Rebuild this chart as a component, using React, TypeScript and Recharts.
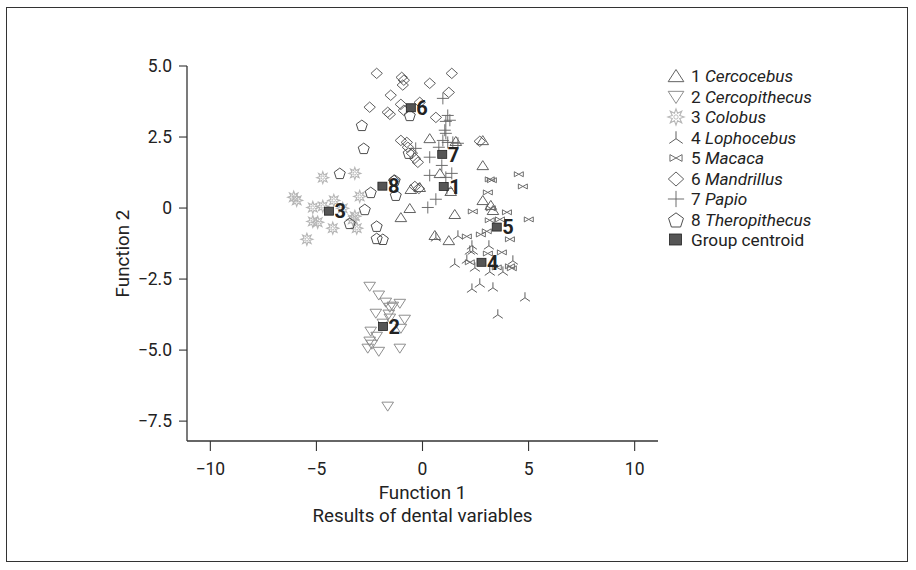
import React from 'react';
import { ScatterChart, Scatter, XAxis, YAxis } from 'recharts';

const FONT = 'Roboto, "Open Sans", sans-serif';
const TEXT = '#222';
const FS = 17.5;
const TITLE_FS = 18.8;
const LEGEND_FS = 17.2;

// ---------- axes ----------
const xTicks = [-10, -5, 0, 5, 10];
const yTicks = [-7.5, -5, -2.5, 0, 2.5, 5];
const xDomain: [number, number] = [-11.1, 11.1];
const yDomain: [number, number] = [-8.2, 5.0];
const xAxisTitle = 'Function 1';
const xAxisSubtitle = 'Results of dental variables';
const yAxisTitle = 'Function 2';

// ---------- data (Function 1, Function 2) ----------
const cercocebus: [number, number][] = [
  [0.34, 2.45], [1.57, 2.35], [2.84, 2.38], [2.84, 1.5], [0.82, 1.22], [1.33, 0.59],
  [-0.55, 0.66], [-0.6, -0.01], [-1.02, -0.33], [1.52, -0.22], [2.84, 0.27], [3.22, 0.1],
  [3.32, -0.08], [0.58, -0.96], [1.24, -1.14], [-0.13, 0.73],
];
const cercopithecus: [number, number][] = [
  [-2.49, -2.76], [-2.06, -3.07], [-1.73, -3.32], [-1.54, -3.5], [-1.4, -3.46], [-1.07, -3.36],
  [-2.2, -3.71], [-1.59, -3.74], [-1.54, -3.88], [-0.84, -3.92], [-1.87, -4.06], [-1.02, -4.24],
  [-2.44, -4.34], [-2.16, -4.52], [-2.49, -4.69], [-2.39, -4.8], [-2.58, -4.94], [-2.06, -5.05],
  [-1.07, -4.94], [-1.64, -6.98],
];
const colobus: [number, number][] = [
  [-4.7, 1.07], [-3.19, 1.22], [-6.07, 0.38], [-5.93, 0.27], [-5.17, 0.02], [-4.7, 0.06],
  [-4.18, 0.27], [-2.96, 0.41], [-3.76, -0.01], [-3.19, -0.29], [-5.17, -0.47], [-4.94, -0.5],
  [-4.23, -0.71], [-3.1, -0.71], [-5.45, -1.1], [-3.29, -0.4],
];
const lophocebus: [number, number][] = [
  [1.67, -0.96], [0.63, -1.03], [2.33, -1.31], [3.13, -1.31], [2.23, -1.49], [2.37, -1.49],
  [4.26, -1.84], [2.09, -1.81], [1.52, -1.95], [2.47, -2.09], [3.17, -2.23], [3.79, -2.23],
  [2.7, -2.65], [2.33, -2.83], [3.32, -2.79], [4.83, -3.14], [3.55, -3.74],
];
const macaca: [number, number][] = [
  [3.17, 1.01], [3.27, 0.98], [4.54, 1.19], [4.73, 0.76], [3.08, 0.55], [2.37, -0.12],
  [3.22, -0.01], [3.98, -0.15], [5.01, -0.4], [3.17, -0.43], [3.65, -0.4], [3.03, -0.82],
  [2.75, -0.93], [2.09, -1.0], [4.12, -1.1], [3.08, -1.6], [3.74, -1.56], [2.23, -1.91],
  [4.12, -2.05], [4.21, -2.12], [3.5, -2.09],
];
const mandrillus: [number, number][] = [
  [-2.16, 4.74], [-0.98, 4.6], [-0.88, 4.5], [-0.93, 4.33], [0.34, 4.39], [1.38, 4.74],
  [1.24, 4.07], [-1.5, 3.97], [-2.49, 3.55], [-1.02, 3.65], [-1.64, 3.37], [-1.54, 3.3],
  [-0.13, 3.72], [-0.88, 3.44], [0.63, 3.19], [-1.02, 2.38], [-0.74, 2.31], [-0.69, 2.14],
  [-0.5, 1.93], [-0.36, 1.75], [-0.22, 1.61], [2.7, 2.35], [-1.35, 0.98], [-0.36, 0.76],
  [-0.17, 0.69],
];
const papio: [number, number][] = [
  [0.96, 3.86], [1.19, 3.26], [1.1, 3.05], [1.29, 3.09], [1.05, 2.74], [1.1, 2.63],
  [0.96, 2.38], [1.19, 2.31], [1.43, 2.31], [1.67, 2.28], [-0.32, 2.1], [0.34, 1.79],
  [0.77, 2.14], [0.91, 1.5], [0.34, 1.15], [1.38, 1.22], [1.1, 1.08], [1.15, 0.69],
  [0.63, 0.31], [0.25, 0.02],
];
const theropithecus: [number, number][] = [
  [-2.86, 2.91], [-2.77, 2.1], [-0.6, 3.26], [-0.65, 1.93], [-3.9, 1.22], [-2.44, 0.55],
  [-1.26, 0.45], [-1.31, 0.98], [-2.72, -0.05], [-3.43, -0.54], [-2.16, -0.64], [-2.16, -1.07],
  [-1.87, -1.1],
];
const centroidLabels = ['1', '2', '3', '4', '5', '6', '7', '8'];
const centroidValues: [number, number][] = [
  [1.0, 0.76], [-1.86, -4.17], [-4.41, -0.11], [2.78, -1.91],
  [3.5, -0.67], [-0.55, 3.53], [0.93, 1.89], [-1.89, 0.77],
];

const toPoints = (arr: [number, number][]) => arr.map(([x, y]) => ({ x, y }));

type Kind = 'triUp' | 'triDown' | 'star' | 'tri3' | 'bowtie' | 'diamond' | 'plus' | 'pentagon';

const groups: { num: string; name: string; kind: Kind; color: string; data: [number, number][] }[] = [
  { num: '1', name: 'Cercocebus', kind: 'triUp', color: '#5a5a5a', data: cercocebus },
  { num: '2', name: 'Cercopithecus', kind: 'triDown', color: '#888', data: cercopithecus },
  { num: '3', name: 'Colobus', kind: 'star', color: '#b5b5b5', data: colobus },
  { num: '4', name: 'Lophocebus', kind: 'tri3', color: '#555', data: lophocebus },
  { num: '5', name: 'Macaca', kind: 'bowtie', color: '#666', data: macaca },
  { num: '6', name: 'Mandrillus', kind: 'diamond', color: '#555', data: mandrillus },
  { num: '7', name: 'Papio', kind: 'plus', color: '#666', data: papio },
  { num: '8', name: 'Theropithecus', kind: 'pentagon', color: '#444', data: theropithecus },
];

const fmtX = (v: number) => String(v).replace('-', '\u2212');
const fmtY = (v: number) => (v === 0 ? '0' : (Number.isInteger(v) ? v.toFixed(1) : String(v)).replace('-', '\u2212'));

function starPath(cx: number, cy: number, ro: number, ri: number, n: number) {
  let d = '';
  for (let i = 0; i < n * 2; i++) {
    const r = i % 2 === 0 ? ro : ri;
    const a = (Math.PI * i) / n - Math.PI / 2;
    d += (i === 0 ? 'M' : 'L') + (cx + r * Math.cos(a)).toFixed(2) + ',' + (cy + r * Math.sin(a)).toFixed(2);
  }
  return d + 'Z';
}

function Marker({ kind, cx, cy, s = 1, color }: { kind: Kind; cx: number; cy: number; s?: number; color: string }) {
  const common = { fill: 'none', stroke: color, strokeWidth: 0.95 };
  switch (kind) {
    case 'triUp':
      return <path d={`M${cx},${cy - 4.8 * s}L${cx + 5.8 * s},${cy + 4.2 * s}L${cx - 5.8 * s},${cy + 4.2 * s}Z`} {...common} />;
    case 'triDown':
      return <path d={`M${cx - 5.8 * s},${cy - 4.2 * s}L${cx + 5.8 * s},${cy - 4.2 * s}L${cx},${cy + 4.8 * s}Z`} {...common} />;
    case 'star':
      return (
        <g>
          <path d={starPath(cx, cy, 6 * s, 3 * s, 8)} {...common} strokeWidth={1.1} />
          <circle cx={cx} cy={cy} r={1.6 * s} fill="none" stroke={color} strokeWidth={0.9} />
        </g>
      );
    case 'tri3':
      return (
        <path
          d={`M${cx},${cy - 5 * s}L${cx},${cy + 0.5 * s}M${cx},${cy + 0.5 * s}L${cx - 5 * s},${cy + 4 * s}M${cx},${cy + 0.5 * s}L${cx + 5 * s},${cy + 4 * s}`}
          {...common}
        />
      );
    case 'bowtie':
      return (
        <path
          d={`M${cx - 4.5 * s},${cy - 2.5 * s}L${cx},${cy}L${cx - 4.5 * s},${cy + 2.5 * s}ZM${cx + 4.5 * s},${cy - 2.5 * s}L${cx},${cy}L${cx + 4.5 * s},${cy + 2.5 * s}Z`}
          {...common}
        />
      );
    case 'diamond':
      return <path d={`M${cx},${cy - 5.2 * s}L${cx + 5.7 * s},${cy}L${cx},${cy + 5.2 * s}L${cx - 5.7 * s},${cy}Z`} {...common} />;
    case 'plus':
      return <path d={`M${cx - 6 * s},${cy}L${cx + 6 * s},${cy}M${cx},${cy - 6 * s}L${cx},${cy + 6 * s}`} {...common} />;
    case 'pentagon': {
      const r = 5.8 * s;
      const pts = [0, 1, 2, 3, 4].map((i) => {
        const a = -Math.PI / 2 + (2 * Math.PI * i) / 5;
        return `${(cx + r * Math.cos(a)).toFixed(2)},${(cy + r * Math.sin(a) + 0.5 * s).toFixed(2)}`;
      });
      return <polygon points={pts.join(' ')} {...common} />;
    }
  }
  return null;
}

const centroidData = centroidValues.map(([x, y], i) => ({ x, y, label: centroidLabels[i] }));

const CentroidShape = (p: any) => {
  const label = p?.payload?.label ?? p?.label;
  return (
    <g>
      <rect x={p.cx - 4.5} y={p.cy - 4} width={9} height={8} fill="#555" stroke="#222" strokeWidth={0.8} />
      <text x={p.cx + 5.5} y={p.cy} dy="0.36em" fontSize={20} fontWeight={700} fill={TEXT} fontFamily={FONT}>
        {label}
      </text>
    </g>
  );
};

const XLabel = (props: any) => {
  const vb = props.viewBox || {};
  const cx = vb.x + vb.width / 2;
  return (
    <g fontFamily={FONT} fontSize={TITLE_FS} fill={TEXT}>
      <text x={cx} y={vb.y + 58} textAnchor="middle" fill={TEXT}>{xAxisTitle}</text>
      <text x={cx} y={vb.y + 81} textAnchor="middle" fill={TEXT}>{xAxisSubtitle}</text>
    </g>
  );
};

const YLabel = (props: any) => {
  const vb = props.viewBox || {};
  const cy = vb.y + vb.height / 2;
  const x = 129;
  return (
    <text x={x} y={cy} textAnchor="middle" transform={`rotate(-90 ${x} ${cy})`} fontFamily={FONT} fontSize={TITLE_FS} fill={TEXT}>
      {yAxisTitle}
    </text>
  );
};

function Legend() {
  const rows = [
    ...groups.map((g) => ({ kind: g.kind as Kind | 'centroid', color: g.color, num: g.num, name: g.name })),
    { kind: 'centroid' as const, color: '#555', num: '', name: 'Group centroid' },
  ];
  return (
    <div style={{ position: 'absolute', left: 666, top: 66, fontFamily: FONT, fontSize: LEGEND_FS, color: TEXT }}>
      {rows.map((r, i) => (
        <div key={i} style={{ height: 20.5, display: 'flex', alignItems: 'center', whiteSpace: 'nowrap' }}>
          <svg width={20} height={20} style={{ flex: 'none' }}>
            {r.kind === 'centroid' ? (
              <rect x={3.5} y={4} width={12} height={11} fill="#555" stroke="#222" strokeWidth={0.8} />
            ) : (
              <Marker kind={r.kind} cx={10} cy={10} s={1.35} color={r.color} />
            )}
          </svg>
          <div style={{ marginLeft: 5, lineHeight: '20px' }}>
            {r.num ? `${r.num} ` : ''}
            {r.num ? <i>{r.name}</i> : r.name}
          </div>
        </div>
      ))}
    </div>
  );
}

export default function App() {
  return (
    <div style={{ position: 'absolute', left: 0, top: 0, width: 916, height: 570, background: '#fff', fontFamily: FONT }}>
      <div
        style={{
          position: 'absolute', left: 6, top: 7, width: 902, height: 555,
          border: '1.5px solid #333', boxSizing: 'border-box', pointerEvents: 'none',
        }}
      />
      <ScatterChart width={916} height={570} margin={{ top: 66, right: 258, bottom: 99, left: 127 }}>
        <XAxis
          type="number"
          dataKey="x"
          domain={xDomain}
          ticks={xTicks}
          tickFormatter={fmtX}
          allowDataOverflow
          height={30}
          tickSize={10}
          tickMargin={12}
          axisLine={{ stroke: '#333', strokeWidth: 1.3 }}
          tickLine={{ stroke: '#333', strokeWidth: 1.1 }}
          tick={{ fill: TEXT, fontSize: FS, fontFamily: FONT }}
          label={{ content: XLabel }}
        />
        <YAxis
          type="number"
          dataKey="y"
          domain={yDomain}
          ticks={yTicks}
          tickFormatter={fmtY}
          allowDataOverflow
          width={60}
          tickSize={8}
          tickMargin={7}
          axisLine={{ stroke: '#333', strokeWidth: 1.3 }}
          tickLine={{ stroke: '#333', strokeWidth: 1.1 }}
          tick={{ fill: TEXT, fontSize: FS, fontFamily: FONT }}
          label={{ content: YLabel }}
        />
        {groups.map((g) => (
          <Scatter
            key={g.name}
            name={g.name}
            data={toPoints(g.data)}
            isAnimationActive={false}
            shape={(p: any) => <Marker kind={g.kind} cx={p.cx} cy={p.cy} color={g.color} />}
          />
        ))}
        <Scatter name="Group centroid" data={centroidData} isAnimationActive={false} shape={CentroidShape} />
      </ScatterChart>
      <Legend />
    </div>
  );
}
